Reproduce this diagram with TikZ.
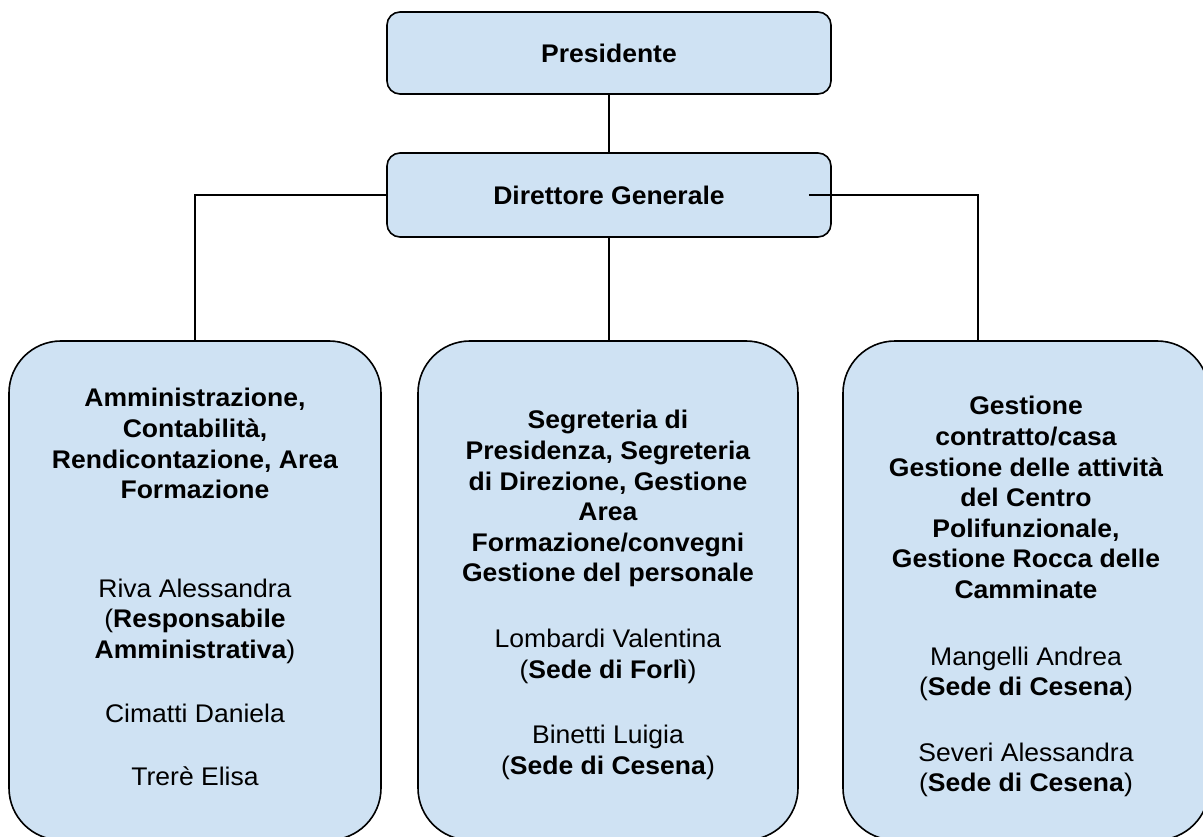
\documentclass[tikz,border=0pt]{standalone}
\usepackage{fontspec}
\setmainfont[FakeStretch=1.04]{Liberation Sans}
\usepackage{tikz}
\usetikzlibrary{positioning}

\definecolor{boxblue}{HTML}{CFE2F3}

\tikzset{
  topbox/.style   = {draw, line width=1.6pt, fill=boxblue, rounded corners=13pt,
                     minimum width=444pt, inner sep=0pt,
                     font=\fontsize{25.5}{30.6}\selectfont\bfseries},
  unitbox/.style  = {draw, line width=1.6pt, fill=boxblue, rounded corners=52pt,
                     minimum height=499pt, inner sep=0pt},
  unittxt/.style  = {anchor=north, align=center, inner sep=0pt,
                     font=\fontsize{25.5}{30.6}\selectfont},
  link/.style     = {line width=1.3pt}
}

\begin{document}
\begin{tikzpicture}[x=1pt, y=-1pt]
        \clip (0,0) rectangle (1203,837);                                   % page

        \node [topbox, minimum height=82pt] (pres) at (609,53)  {Presidente};
        \node [topbox, minimum height=84pt] (dg)   at (609,195) {Direttore Generale};

        \node [unitbox, minimum width=372pt] (amm)  at (195,590.5)  {};     % left
        \node [unitbox, minimum width=380pt] (segr) at (608,590.5)  {};     % middle
        \node [unitbox, minimum width=366pt] (gest) at (1026,590.5) {};     % right

        \node [unittxt, below=48pt of amm.north] (ammtxt)
          {\textbf{Amministrazione,}\\\textbf{Contabilità,}\\
           \textbf{Rendicontazione, Area}\\\textbf{Formazione}\\[68pt]
           Riva Alessandra\\(\textbf{Responsabile}\\\textbf{Amministrativa})\\[33pt]
           Cimatti Daniela\\[33pt]
           Trerè Elisa};
        \node [unittxt, below=70pt of segr.north] (segrtxt)
          {\textbf{Segreteria di}\\\textbf{Presidenza, Segreteria}\\
           \textbf{di Direzione, Gestione}\\\textbf{Area}\\
           \textbf{Formazione/convegni}\\\textbf{Gestione del personale}\\[35pt]
           Lombardi Valentina\\(\textbf{Sede di Forlì})\\[35pt]
           Binetti Luigia\\(\textbf{Sede di Cesena})};
        \node [unittxt, below=56pt of gest.north] (gesttxt)
          {\textbf{Gestione}\\\textbf{contratto/casa}\\
           \textbf{Gestione delle attività}\\\textbf{del Centro}\\
           \textbf{Polifunzionale,}\\\textbf{Gestione Rocca delle}\\
           \textbf{Camminate}\\[36pt]
           Mangelli Andrea\\(\textbf{Sede di Cesena})\\[35pt]
           Severi Alessandra\\(\textbf{Sede di Cesena})};

        \coordinate (dgr) at ([xshift=-23pt]dg.east);                       % line starts inside box
        \draw [link] (pres) -- (dg);
        \draw [link] (dg.west) -| (amm.north);
        \draw [link] (dg.south) -- (dg.south |- segr.north);
        \draw [link] (dgr) -| ([xshift=-48pt]gest.north);
\end{tikzpicture}
\end{document}
